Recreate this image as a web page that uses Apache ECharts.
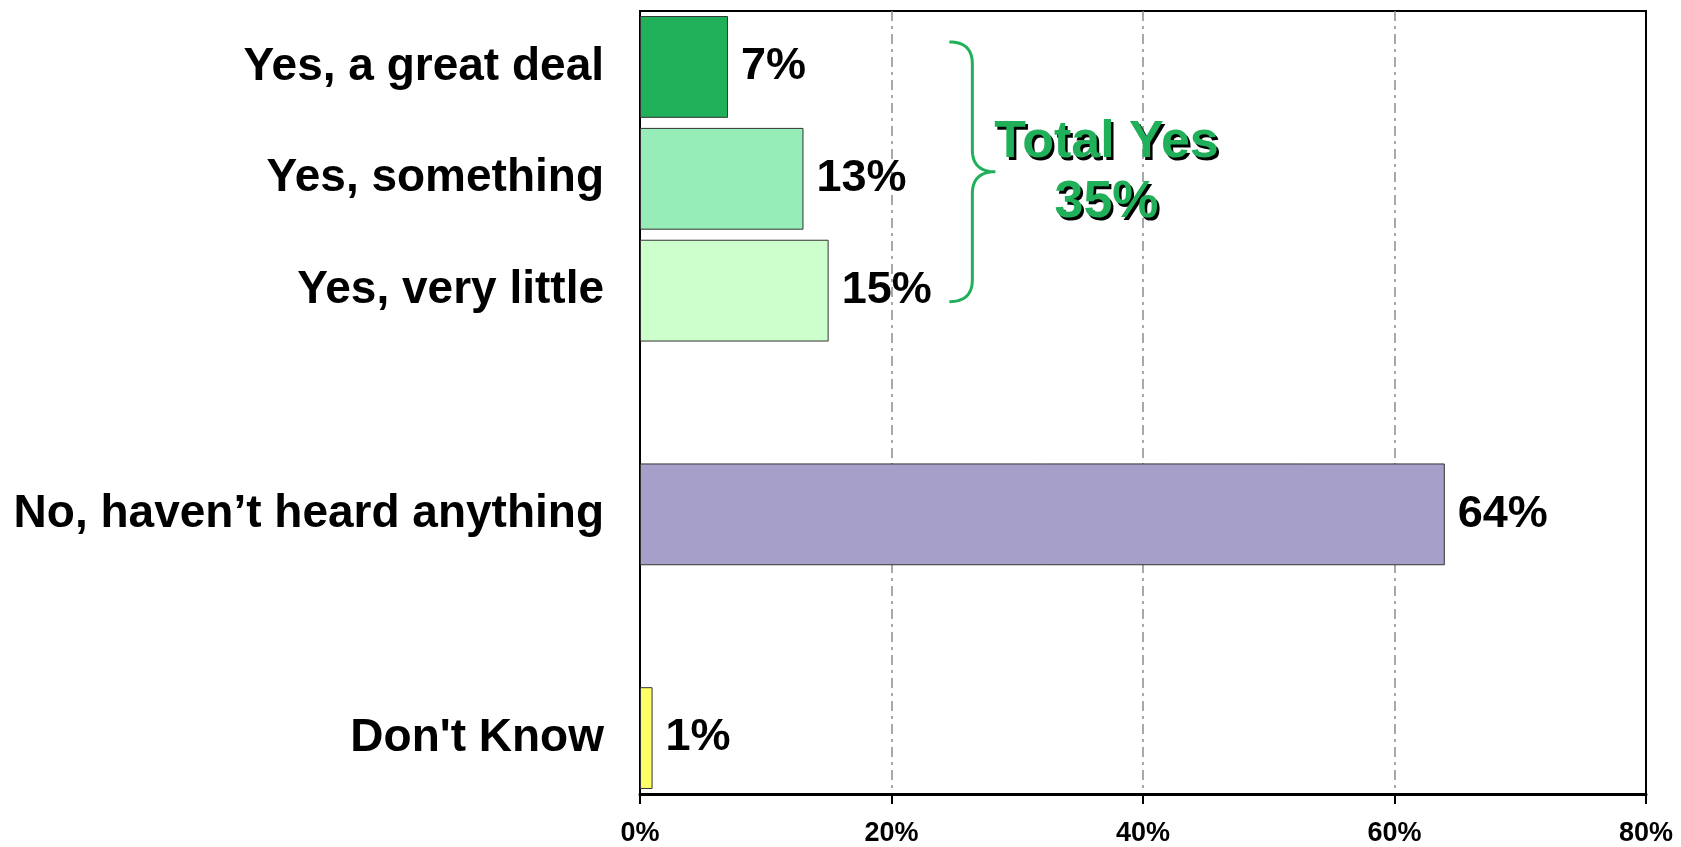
<!DOCTYPE html>
<html><head><meta charset="utf-8">
<script src="https://cdn.jsdelivr.net/npm/echarts@6/dist/echarts.min.js"></script>
<style>html,body{margin:0;padding:0;background:#fff}#c{width:1681px;height:847px}</style>
</head><body><div id="c"></div>
<script>
const categories = ['Yes, a great deal', 'Yes, something', 'Yes, very little', '', 'No, haven\u2019t heard anything', '', "Don't Know"];
const values = [7, 13, 15, null, 64, null, 1];
const barColors = ['#21B05A', '#96EDB8', '#CCFFCC', '#ffffff', '#A59FCA', '#ffffff', '#FFFF66'];
const xTicks = [0, 20, 40, 60, 80];
const totalYesLabel = ['Total Yes', '35%'];
const braceX = 24.6; // in % units
const totalYesX = 37.1;

const chart = echarts.init(document.getElementById('c'), null, {renderer: 'canvas'});
const font = '"Liberation Sans", Arial, sans-serif';
chart.setOption({
  animation: false,
  grid: {left: 640, right: 35, top: 11, bottom: 51, show: true, borderColor: '#000', borderWidth: 2, backgroundColor: 'transparent'},
  xAxis: {
    type: 'value', min: xTicks[0], max: xTicks[xTicks.length - 1], interval: xTicks[1] - xTicks[0],
    axisLine: {show: true, lineStyle: {color: '#000', width: 3}},
    axisTick: {show: true, length: 10, lineStyle: {color: '#000', width: 2}},
    axisLabel: {formatter: v => v + '%', fontFamily: font, fontWeight: 'bold', fontSize: 27, color: '#000', margin: 26},
    splitLine: {show: true, lineStyle: {color: ['rgba(0,0,0,0)', '#8c8c8c', '#8c8c8c', '#8c8c8c', '#000'], width: 1.5, type: [10, 5, 3, 5]}}
  },
  yAxis: {
    type: 'category', data: categories, inverse: true,
    axisLine: {show: true, lineStyle: {color: '#000', width: 2}},
    axisTick: {show: false},
    axisLabel: {fontFamily: font, fontWeight: 'bold', fontSize: 46, color: '#000', margin: 36, padding: [6, 0, 0, 0]}
  },
  series: [{
    type: 'bar',
    barWidth: '91%',
    data: values.map((v, i) => ({value: v, itemStyle: {color: barColors[i]}})),
    itemStyle: {borderColor: '#333', borderWidth: 1},
    label: {show: true, position: 'right', distance: 13, formatter: p => p.value + '%', fontFamily: font, fontWeight: 'bold', fontSize: 45, color: '#000', padding: [7, 0, 0, 0]}
  }]
});

function quad(p0, p1, p2, n) {
  const pts = [];
  for (let i = 0; i <= n; i++) {
    const t = i / n, u = 1 - t;
    pts.push([u*u*p0[0] + 2*u*t*p1[0] + t*t*p2[0], u*u*p0[1] + 2*u*t*p1[1] + t*t*p2[1]]);
  }
  return pts;
}

function drawAnnotation() {
  const top = chart.convertToPixel({yAxisIndex: 0}, categories[0]) - 25;
  const bot = chart.convertToPixel({yAxisIndex: 0}, categories[2]) + 11;
  const x0 = chart.convertToPixel({xAxisIndex: 0}, braceX);
  const mid = (top + bot) / 2;
  const xv = x0 + 23, xt = x0 + 46, r = 22;
  let pts = [];
  pts = pts.concat(quad([x0, top], [xv, top], [xv, top + r], 16));
  pts = pts.concat(quad([xv, mid - r], [xv, mid], [xt, mid], 16));
  pts = pts.concat(quad([xt, mid], [xv, mid], [xv, mid + r], 16));
  pts = pts.concat(quad([xv, bot - r], [xv, bot], [x0, bot], 16));
  const cx = chart.convertToPixel({xAxisIndex: 0}, totalYesX);
  const textEl = (t, x, y, color) => ({type: 'text', x: x, y: y, style: {text: t, fill: color, font: 'bold 52px ' + font, textAlign: 'center', textVerticalAlign: 'middle'}});
  chart.setOption({graphic: [
    {type: 'polyline', shape: {points: pts}, style: {stroke: '#21B05A', lineWidth: 3, fill: null}},
    textEl(totalYesLabel[0], cx + 2.5, mid - 29 + 2.5, '#000'),
    textEl(totalYesLabel[1], cx + 2.5, mid + 31 + 2.5, '#000'),
    textEl(totalYesLabel[0], cx, mid - 29, '#21B05A'),
    textEl(totalYesLabel[1], cx, mid + 31, '#21B05A')
  ]});
}
drawAnnotation();
</script></body></html>
